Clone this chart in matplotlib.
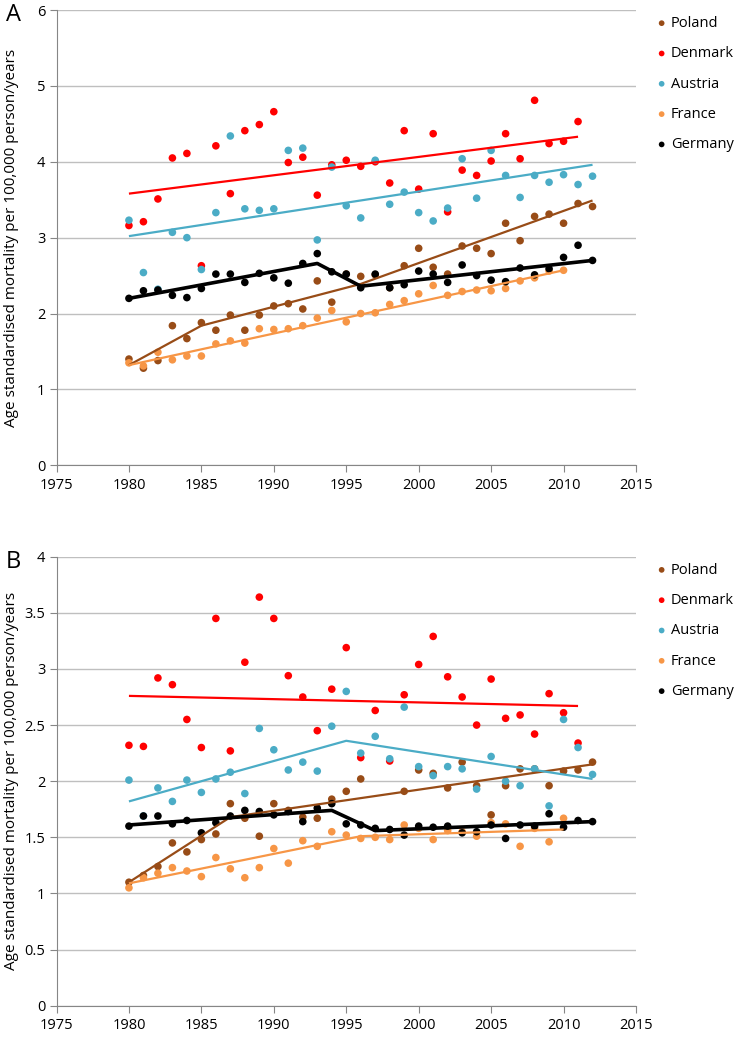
import numpy as np
import matplotlib
matplotlib.use("Agg")
import matplotlib.pyplot as plt

plt.rcParams['font.family'] = ['Open Sans', 'DejaVu Sans']

years = np.arange(1980, 2013)
nan = np.nan

countries = ['Poland', 'Denmark', 'Austria', 'France', 'Germany']
colors = {'Poland': '#984C17', 'Denmark': '#FF0000', 'Austria': '#4BACC6',
          'France': '#F79646', 'Germany': '#000000'}

# panel A
poland_a = [1.40, 1.28, 1.38, 1.84, 1.67, 1.88, 1.78, 1.98, 1.78, 1.98, 2.10, 2.13, 2.06, 2.43, 2.15, 2.52, 2.49,
            2.51, 2.34, 2.63, 2.86, 2.61, 2.52, 2.89, 2.86, 2.79, 3.19, 2.96, 3.28, 3.31, 3.19, 3.45, 3.41]
denmark_a = [3.16, 3.21, 3.51, 4.05, 4.11, 2.63, 4.21, 3.58, 4.41, 4.49, 4.66, 3.99, 4.06, 3.56, 3.96, 4.02, 3.94,
             4.00, 3.72, 4.41, 3.64, 4.37, 3.34, 3.89, 3.82, 4.01, 4.37, 4.04, 4.81, 4.24, 4.27, 4.53, nan]
austria_a = [3.23, 2.54, 2.32, 3.07, 3.00, 2.58, 3.33, 4.34, 3.38, 3.36, 3.38, 4.15, 4.18, 2.97, 3.93, 3.42, 3.26,
             4.02, 3.44, 3.60, 3.33, 3.22, 3.39, 4.04, 3.52, 4.15, 3.82, 3.53, 3.82, 3.73, 3.83, 3.70, 3.81]
france_a = [1.35, 1.31, 1.49, 1.39, 1.44, 1.44, 1.60, 1.64, 1.61, 1.80, 1.79, 1.80, 1.84, 1.94, 2.04, 1.89, 2.00,
            2.01, 2.12, 2.17, 2.26, 2.37, 2.24, 2.29, 2.31, 2.30, 2.33, 2.43, 2.47, 2.56, 2.57, nan, nan]
germany_a = [2.20, 2.30, 2.31, 2.24, 2.21, 2.33, 2.52, 2.52, 2.41, 2.53, 2.47, 2.40, 2.66, 2.79, 2.55, 2.52, 2.34,
             2.52, 2.34, 2.38, 2.56, 2.52, 2.41, 2.64, 2.50, 2.44, 2.42, 2.60, 2.51, 2.59, 2.74, 2.90, 2.70]

# joinpoint trend lines, panel A (knot years, fitted values)
trend_a = {
    'Poland': ([1980, 1985, 1996, 2012], [1.32, 1.84, 2.39, 3.49]),
    'Denmark': ([1980, 2011], [3.58, 4.33]),
    'Austria': ([1980, 2012], [3.02, 3.96]),
    'France': ([1980, 2010], [1.32, 2.57]),
    'Germany': ([1980, 1993, 1996, 2012], [2.20, 2.66, 2.36, 2.70]),
}

# panel B
poland_b = [1.10, 1.16, 1.24, 1.45, 1.37, 1.48, 1.53, 1.80, 1.67, 1.51, 1.80, 1.74, 1.68, 1.67, 1.84, 1.91, 2.02,
            nan, nan, 1.91, 2.10, 2.07, 1.94, 2.17, 1.96, 1.70, 1.96, 2.11, 2.11, 1.96, 2.09, 2.10, 2.17]
denmark_b = [2.32, 2.31, 2.92, 2.86, 2.55, 2.30, 3.45, 2.27, 3.06, 3.64, 3.45, 2.94, 2.75, 2.45, 2.82, 3.19, 2.21,
             2.63, 2.18, 2.77, 3.04, 3.29, 2.93, 2.75, 2.50, 2.91, 2.56, 2.59, 2.42, 2.78, 2.61, 2.34, nan]
austria_b = [2.01, 1.69, 1.94, 1.82, 2.01, 1.90, 2.02, 2.08, 1.89, 2.47, 2.28, 2.10, 2.17, 2.09, 2.49, 2.80, 2.25,
             2.40, 2.20, 2.66, 2.13, 2.05, 2.13, 2.11, 1.93, 2.22, 2.00, 1.96, 2.11, 1.78, 2.55, 2.30, 2.06]
france_b = [1.05, 1.14, 1.18, 1.23, 1.20, 1.15, 1.32, 1.22, 1.14, 1.23, 1.40, 1.27, 1.47, 1.42, 1.55, 1.52, 1.49,
            1.50, 1.48, 1.61, 1.58, 1.48, 1.56, 1.55, 1.51, 1.63, 1.62, 1.42, 1.58, 1.46, 1.67, nan, nan]
germany_b = [1.60, 1.69, 1.69, 1.62, 1.65, 1.54, 1.63, 1.69, 1.74, 1.73, 1.70, 1.73, 1.64, 1.76, 1.80, 1.62, 1.61,
             1.58, 1.57, 1.52, 1.60, 1.59, 1.60, 1.54, 1.55, 1.61, 1.49, 1.61, 1.60, 1.71, 1.59, 1.65, 1.64]

trend_b = {
    'Poland': ([1980, 1987, 2012], [1.10, 1.68, 2.15]),
    'Denmark': ([1980, 2011], [2.76, 2.67]),
    'Austria': ([1980, 1995, 2012], [1.82, 2.36, 2.02]),
    'France': ([1980, 1996, 2010], [1.09, 1.51, 1.57]),
    'Germany': ([1980, 1994, 1997, 2012], [1.61, 1.74, 1.56, 1.64]),
}

data_a = dict(zip(countries, [poland_a, denmark_a, austria_a, france_a, germany_a]))
data_b = dict(zip(countries, [poland_b, denmark_b, austria_b, france_b, germany_b]))

W, H = 737, 1040
fig = plt.figure(figsize=(W / 100, H / 100), dpi=100)

left = 56.5 / W
width = (636 - 56.5) / W
ax_a = fig.add_axes([left, 1 - 465.3 / H, width, (465.3 - 10) / H])
ax_b = fig.add_axes([left, 1 - 1005.7 / H, width, (1005.7 - 556.7) / H])


def draw_panel(ax, data, trend, ymax, ystep, top_px, letter, ylabels):
    for c in countries:
        ax.scatter(years, data[c], s=30, color=colors[c], edgecolors='none', zorder=3, label=c)
    for c in countries:
        ty, tv = trend[c]
        lw = 2.6 if c == 'Germany' else 1.6
        ax.plot(ty, tv, color=colors[c], lw=lw, zorder=4, solid_capstyle='butt')

    ax.set_xlim(1975, 2015)
    ax.set_ylim(0, ymax)
    ax.set_xticks(np.arange(1975, 2016, 5))
    ax.set_yticks(np.arange(0, ymax + 0.001, ystep))
    ax.set_yticklabels(ylabels)
    ax.grid(axis='y', color='#BFBFBF', lw=1)
    ax.set_axisbelow(True)
    for s in ['top', 'right']:
        ax.spines[s].set_visible(False)
    for s in ['left', 'bottom']:
        ax.spines[s].set_color('#868686')
    ax.tick_params(axis='both', colors='#868686', labelcolor='black', labelsize=10.5, length=5)
    ax.tick_params(axis='x', pad=4)
    ax.tick_params(axis='y', pad=3)

    ax.legend(loc='upper left', bbox_to_anchor=(658 / W, 1 - (top_px + 6) / H),
              bbox_transform=fig.transFigure, frameon=False, fontsize=10.5,
              handlelength=0.5, handletextpad=0.4, labelspacing=1.05,
              borderpad=0, borderaxespad=0, scatterpoints=1, markerscale=0.75)

    fig.text(13 / W, 1 - (top_px + 5) / H, letter, fontsize=17, ha='center', va='center')
    y0, y1 = ax.get_position().y0, ax.get_position().y1
    fig.text(12 / W, (y0 + y1) / 2, 'Age standardised mortality per 100,000 person/years',
             rotation=90, fontsize=11, ha='center', va='center')


draw_panel(ax_a, data_a, trend_a, 6, 1, 10, 'A', ['0', '1', '2', '3', '4', '5', '6'])
draw_panel(ax_b, data_b, trend_b, 4, 0.5, 556.7, 'B',
           ['0', '0.5', '1', '1.5', '2', '2.5', '3', '3.5', '4'])

fig.savefig('out.png', dpi=100)
